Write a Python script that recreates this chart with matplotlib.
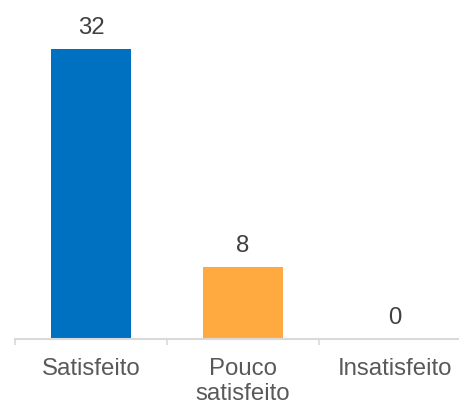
import matplotlib
matplotlib.use("Agg")
import matplotlib.pyplot as plt

categories = ["Satisfeito", "Pouco\nsatisfeito", "Insatisfeito"]
values = [32, 8, 0]
colors = ["#0070C0", "#FFAA40", "#A5A5A5"]

plt.rcParams['font.family'] = ['Liberation Sans', 'DejaVu Sans']

W, H = 459, 404
fig = plt.figure(figsize=(W / 100, H / 100), dpi=100)
left_px, base_px, cat_px = 15, 339, 152
ax = fig.add_axes([left_px / W, (H - base_px) / H, 3 * cat_px / W, base_px / H])

x = list(range(len(categories)))
bars = ax.bar(x, values, width=0.52, color=colors, zorder=2)
ax.set_xlim(-0.5, 2.5)
ax.set_ylim(0, base_px / 9.06)

for xi, v in zip(x, values):
    ax.annotate(str(v), (xi, v), xytext=(0, 10.5), textcoords="offset points",
                ha="center", va="baseline", fontsize=17.3, color="#404040")

for s in ["top", "right", "left"]:
    ax.spines[s].set_visible(False)
ax.spines["bottom"].set_color("#D9D9D9")
ax.spines["bottom"].set_linewidth(1.5)
ax.set_yticks([])
ax.set_xticks([-0.5, 0.5, 1.5, 2.5])
ax.set_xticklabels([])
ax.set_xticks(x, minor=True)
ax.set_xticklabels(categories, minor=True, fontsize=17.3, color="#595959",
                   linespacing=1.15)
ax.tick_params(axis="x", which="major", length=4.5, width=1.2, color="#D9D9D9")
ax.tick_params(axis="x", which="minor", length=0, pad=14)

fig.savefig("out.png", dpi=100)
